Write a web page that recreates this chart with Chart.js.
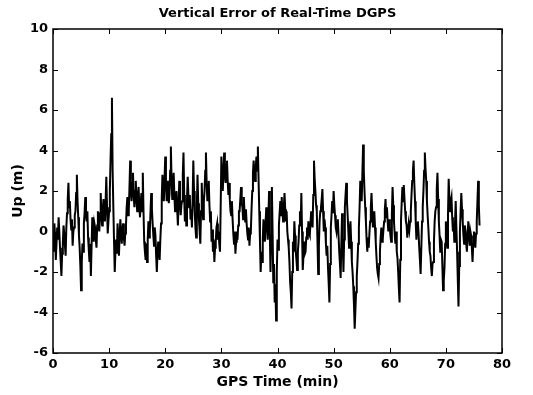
<!DOCTYPE html>
<html>
<head>
<meta charset="utf-8">
<script src="https://cdn.jsdelivr.net/npm/chart.js@4/dist/chart.umd.min.js"></script>
<style>
  body { margin: 0; background: #fff; }
  #wrap { width: 533px; height: 395px; }
</style>
</head>
<body>
<div id="wrap"><canvas id="dgpsChart" width="533" height="395"></canvas></div>
<script>
// time step between samples (minutes)
const stepMin = 0.125;

// vertical error (m), eight samples per minute
const upError = [
  -0.5, -1.0, 0.4, -0.3, -1.4, -0.6, 0.2, -0.4,   // 0
  0.7, 0.0, -0.8, -1.5, -2.2, -1.1, -0.6, 0.3,    // 1
  -0.1, -0.7, -1.2, 0.2, 0.9, 1.6, 2.4, 1.2,      // 2
  1.5, 0.6, 0.1, 0.6, -0.7, 0.0, 0.2, 0.8,        // 3
  1.0, 1.9, 2.8, 1.5, 0.7, -0.2, -0.8, -1.7,      // 4
  -2.9, -1.5, -0.6, -1.0, 0.4, 0.9, 1.7, 0.8,     // 5
  0.5, 1.0, -0.3, -0.9, -1.5, -0.6, -2.2, -0.7,   // 6
  0.7, 0.1, -0.5, 0.4, 0.2, -0.4, -0.8, 0.3,      // 7
  1.0, 0.3, 0.0, 0.9, 1.9, 0.8, 0.3, 1.1,         // 8
  1.6, 0.7, 0.5, 1.5, 2.7, 1.2, -0.1, 0.5,        // 9
  1.0, 2.0, 3.5, 4.8, 6.6, 3.0, 1.2, -0.5,        // 10
  -2.0, -1.0, -0.4, -1.1, 0.4, -0.3, -1.2, -0.2,  // 11
  0.6, 0.0, -0.6, 0.1, 0.4, -0.3, -0.7, -0.1,     // 12
  0.3, 1.2, 1.7, 0.8, 1.0, 2.2, 3.5, 2.0,         // 13
  1.5, 2.4, 2.9, 1.8, 1.2, 2.0, 2.5, 1.5,         // 14
  1.0, 1.8, 2.2, 1.3, 0.7, 1.4, 1.9, 1.0,         // 15
  2.9, 1.0, -0.5, -1.0, -1.4, -0.6, -1.5, -0.4,   // 16
  0.5, -0.3, 0.0, 1.0, 1.9, 1.1, 0.4, -0.2,       // 17
  -0.7, 0.2, -0.2, -1.2, -2.0, -1.0, -0.5, -1.1,  // 18
  -1.4, -0.4, 0.4, 1.6, 2.8, 1.9, 1.5, 2.6,       // 19
  3.7, 2.4, 1.5, 2.2, 2.5, 1.4, 1.8, 3.0,         // 20
  4.2, 2.5, 1.6, 2.3, 2.9, 1.8, 1.0, 1.6,         // 21
  2.0, 1.1, 0.3, 1.4, 2.5, 1.5, 0.8, 1.3,         // 22
  1.5, 2.8, 3.9, 1.8, 0.5, 1.2, 0.3, 1.6,         // 23
  2.7, 1.8, 1.2, 1.8, 0.6, 1.1, 0.2, 1.5,         // 24
  3.5, 2.0, 1.0, 0.2, -0.3, 1.2, 2.8, 1.4,        // 25
  0.6, 0.0, -0.6, 1.0, 2.4, 1.3, 0.6, 1.5,        // 26
  2.0, 3.0, 3.9, 2.4, 1.5, 2.3, 2.5, 1.3,         // 27
  0.5, 1.0, -0.5, 0.1, -1.0, -0.4, -1.5, -0.8,    // 28
  -0.5, 0.2, 0.4, -0.4, 0.0, -0.6, -1.0, 1.2,     // 29
  3.7, 2.7, 2.0, 3.0, 3.9, 2.8, 2.4, 3.3,         // 30
  3.5, 2.5, 1.8, 2.4, 1.6, 1.0, 0.8, 1.5,         // 31
  0.6, -0.1, -0.6, 0.0, -1.1, -0.5, 0.0, -0.4,    // 32
  0.3, 1.0, 1.0, 1.6, 2.2, 1.4, 1.2, 0.6,         // 33
  1.7, 0.9, 0.5, 1.1, 0.4, -0.1, -0.4, 0.2,       // 34
  -0.7, -0.1, 0.0, 1.1, 2.0, 2.9, 3.5, 2.6,       // 35
  2.5, 3.2, 3.7, 3.0, 4.2, 2.6, 1.0, -0.5,        // 36
  -2.0, -1.0, -1.5, -0.4, 0.6, 0.0, -0.5, 0.4,    // 37
  1.2, 0.3, -0.4, 0.7, 2.0, 0.0, -2.0, -0.3,      // 38
  2.2, 0.0, -2.5, -1.6, -3.5, -2.6, -4.4, -2.0,   // 39
  -0.4, -0.9, 0.3, 0.9, 1.5, 0.8, 1.7, 1.0,       // 40
  0.5, 1.2, 1.9, 1.1, 0.5, 1.0, 0.0, -0.4,        // 41
  -0.8, -1.5, -2.5, -3.0, -3.8, -2.0, -0.5, -1.0, // 42
  0.5, -0.2, -1.0, -1.4, -1.9, -1.0, -0.5, 0.3,   // 43
  1.0, 0.3, 1.9, 0.0, -1.9, -1.2, -0.5, -1.1,     // 44
  -1.0, -0.3, 0.2, -0.4, 0.5, -0.1, -0.2, 0.4,    // 45
  1.0, 0.5, 0.2, 1.8, 3.5, 2.6, 2.0, 1.3,         // 46
  1.0, -0.5, -2.1, -0.7, 0.5, 1.0, 1.2, 1.6,      // 47
  2.1, 1.0, 0.0, 0.6, 0.2, -0.6, -1.2, -0.7,      // 48
  -1.8, -2.6, -3.5, -1.6, 0.2, 0.8, 1.5, 0.9,     // 49
  2.0, 1.3, 0.8, 0.2, 0.0, 0.5, 0.6, -0.2,        // 50
  -1.0, -1.6, -2.3, -0.6, 0.9, -0.5, -2.0, -0.4,  // 51
  1.2, 1.8, 2.4, 1.5, 0.8, 0.0, -0.8, 0.1,        // 52
  0.5, -0.5, -1.5, -2.0, -2.7, -3.6, -4.8, -3.9,  // 53
  -3.0, -2.2, -1.5, -0.6, 0.2, 1.2, 2.5, 1.9,     // 54
  1.5, 2.9, 4.3, 3.0, 2.0, 1.2, 0.5, -0.4,        // 55
  -1.0, -0.3, -0.8, -0.1, 0.5, 1.2, 1.9, 1.0,     // 56
  0.2, 0.7, 1.0, 0.2, -0.5, -1.2, -1.8, -2.1,     // 57
  -2.3, -1.6, -1.0, -0.3, 0.2, -0.5, -0.4, 0.1,   // 58
  0.5, 1.1, 1.6, 0.7, 1.2, 0.5, 0.0, 0.6,         // 59
  0.2, -0.2, -0.5, 0.8, 2.2, 1.3, 0.5, -0.1,      // 60
  -0.6, 0.0, -1.0, -1.3, -2.0, -2.8, -3.5, -1.4,  // 61
  0.5, 1.4, 2.2, 1.5, 2.3, 1.6, 1.0, 0.5,         // 62
  0.3, -0.3, -0.3, 0.4, 0.1, 0.5, 1.0, 1.8,       // 63
  2.5, 3.0, 3.5, 2.4, 1.5, 0.5, -0.4, 0.3,        // 64
  0.5, 0.0, -0.8, -1.4, -2.1, -0.8, 0.5, 1.2,     // 65
  2.0, 3.0, 3.9, 3.1, 2.5, 1.5, 0.8, 0.2,         // 66
  -0.5, -1.0, -1.2, -1.8, -2.2, -1.6, -1.5, -0.5, // 67
  0.5, 1.0, 1.2, 2.1, 2.9, 1.6, 0.5, -0.2,        // 68
  -1.0, -0.4, -0.5, -1.7, -2.9, -2.4, -1.8, -0.6, // 69
  0.5, -0.2, -0.8, 0.8, 2.6, 1.6, 1.0, 1.5,       // 70
  1.7, 0.7, 0.0, 0.4, -0.5, 0.4, 1.5, 0.2,        // 71
  -1.0, -2.4, -3.7, -1.7, 0.0, 1.0, 1.9, 1.1,     // 72
  0.5, -0.2, -0.6, 0.3, 0.0, -0.6, -1.0, -0.1,    // 73
  0.5, -0.2, -0.7, 0.0, -0.2, -0.8, -1.5, -0.6,   // 74
  0.0, -0.5, -0.8, -0.1, 0.5, 1.5, 2.5, 1.3,      // 75
  0.3                                             // 76
];

const xRange = [0, 80];
const yRange = [-6, 10];

// box frame + inward tick marks on all four sides (matlab look)
const frameTicks = {
  id: 'frameTicks',
  afterDraw(chart) {
    const { ctx, chartArea: a, scales: { x, y } } = chart;
    const len = 5;
    ctx.save();
    ctx.strokeStyle = '#000';
    ctx.lineWidth = 1.5;
    ctx.strokeRect(a.left, a.top, a.right - a.left, a.bottom - a.top);
    ctx.lineWidth = 1;
    ctx.beginPath();
    x.ticks.forEach(t => {
      const px = Math.round(x.getPixelForValue(t.value)) + 0.5;
      ctx.moveTo(px, a.bottom); ctx.lineTo(px, a.bottom - len);
      ctx.moveTo(px, a.top); ctx.lineTo(px, a.top + len);
    });
    y.ticks.forEach(t => {
      const py = Math.round(y.getPixelForValue(t.value)) + 0.5;
      ctx.moveTo(a.left, py); ctx.lineTo(a.left + len, py);
      ctx.moveTo(a.right, py); ctx.lineTo(a.right - len, py);
    });
    ctx.stroke();
    ctx.restore();
  }
};

const fam = 'DejaVu Sans, sans-serif';
const tickFont = { family: fam, size: 13, weight: 'bold' };
const axisFont = { family: fam, size: 14, weight: 'bold' };

new Chart(document.getElementById('dgpsChart'), {
  type: 'line',
  data: {
    datasets: [{
      data: upError.map((v, i) => ({ x: i * stepMin, y: v })),
      borderColor: '#000',
      borderWidth: 2,
      pointRadius: 0,
      tension: 0,
      fill: false
    }]
  },
  options: {
    responsive: false,
    animation: false,
    layout: { padding: { left: 0, right: 31, top: 0, bottom: 0 } },
    plugins: {
      legend: { display: false },
      tooltip: { enabled: false }
    },
    scales: {
      x: {
        type: 'linear',
        min: xRange[0],
        max: xRange[1],
        grid: { display: false, drawTicks: false },
        border: { display: false },
        ticks: { stepSize: 10, color: '#000', font: tickFont, padding: 4, maxRotation: 0 },
        title: { display: true, text: 'GPS Time (min)', color: '#000', font: axisFont, padding: { top: 0, bottom: 4 } },
        afterFit(scale) { scale.height = 42; }
      },
      // top axis only carries the title, so it is centred over the plot box
      xTop: {
        type: 'linear',
        position: 'top',
        min: xRange[0],
        max: xRange[1],
        grid: { display: false, drawTicks: false },
        border: { display: false },
        ticks: { display: false },
        title: { display: true, text: 'Vertical Error of Real-Time DGPS', color: '#000', font: { family: fam, size: 13, weight: 'bold' }, padding: { top: 6, bottom: 0 } },
        afterFit(scale) { scale.height = 29; }
      },
      y: {
        min: yRange[0],
        max: yRange[1],
        grid: { display: false, drawTicks: false },
        border: { display: false },
        ticks: { stepSize: 2, color: '#000', font: tickFont, padding: 5 },
        title: { display: true, text: 'Up (m)', color: '#000', font: axisFont, padding: { top: 10, bottom: 0 } },
        afterFit(scale) { scale.width = 53; }
      }
    }
  },
  plugins: [frameTicks]
});
</script>
</body>
</html>
